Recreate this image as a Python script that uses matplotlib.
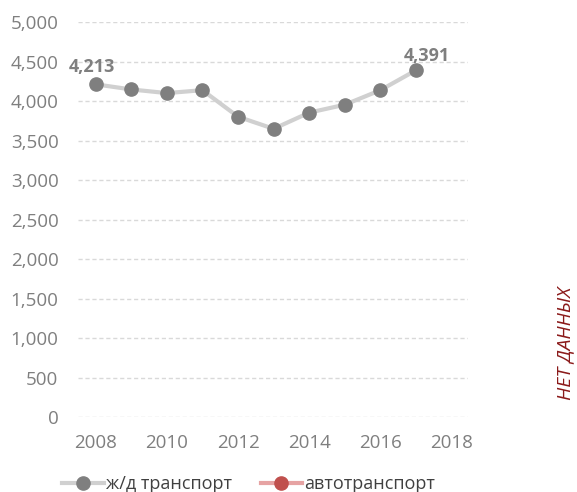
import matplotlib.pyplot as plt

years = [2008, 2009, 2010, 2011, 2012, 2013, 2014, 2015, 2016, 2017]
rail = [4213, 4148, 4102, 4139, 3803, 3650, 3855, 3955, 4139, 4391]
auto_years = []
auto = []
yticks = [0, 500, 1000, 1500, 2000, 2500, 3000, 3500, 4000, 4500, 5000]
xticks = [2008, 2010, 2012, 2014, 2016, 2018]

plt.rcParams['font.family'] = ['Open Sans', 'DejaVu Sans']

fig = plt.figure(figsize=(5.77, 4.92), dpi=100)
ax = fig.add_axes([0.135, 0.152, 0.676, 0.803])

ax.plot(years, rail, color='#d0d0d0', lw=3, marker='o', ms=9.5,
        markerfacecolor='#7f7f7f', markeredgecolor='#7f7f7f', label='ж/д транспорт',
        clip_on=False, zorder=3)
ax.plot(auto_years, auto, color='#e6a3a3', lw=3, marker='o', ms=9.5,
        markerfacecolor='#c0504d', markeredgecolor='#c0504d', label='автотранспорт')

ax.annotate(f"{rail[0]:,}", (years[0], rail[0]), xytext=(-3, 6), textcoords='offset points',
            ha='center', va='bottom', fontsize=13, fontweight='bold', color='#7f7f7f')
ax.annotate(f"{rail[-1]:,}", (years[-1], rail[-1]), xytext=(8, 4), textcoords='offset points',
            ha='center', va='bottom', fontsize=13, fontweight='bold', color='#7f7f7f')

ax.set_xlim(2007.5, 2018.46)
ax.set_ylim(0, 5000)
ax.set_yticks(yticks)
ax.set_yticklabels([f"{v:,}" for v in yticks])
ax.set_xticks(xticks)
ax.tick_params(length=0, labelsize=13.5, labelcolor='#7f7f7f', pad=14)
ax.tick_params(axis='x', pad=12)
ax.grid(axis='y', color='#d9d9d9', ls=(0, (3, 2)), lw=1)
ax.set_axisbelow(True)
for s in ax.spines.values():
    s.set_visible(False)

leg = fig.legend(loc='lower left', bbox_to_anchor=(0.08, -0.035), ncol=2, frameon=False,
                 fontsize=13, handlelength=2.3, handletextpad=0.1, columnspacing=1.6)
for t in leg.get_texts():
    t.set_color('#404040')

fig.text(0.98, 0.303, 'НЕТ ДАННЫХ', rotation=90, ha='center', va='center',
         fontsize=14, style='italic', color='#8b1a1a')

fig.savefig('out.png', dpi=100)
